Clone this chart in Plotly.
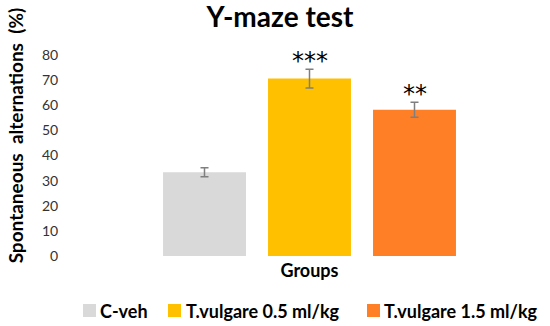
import plotly.graph_objects as go

groups = ["C-veh", "T.vulgare 0.5 ml/kg", "T.vulgare 1.5 ml/kg"]
values = [33.3, 70.6, 58.2]
errors = [1.8, 3.7, 3.0]
colors = ["#d9d9d9", "#ffc000", "#ff7f27"]
signif = ["", "***", "**"]

FONT = "Lato"

fig = go.Figure()
for g, v, e, c in zip(groups, values, errors, colors):
    fig.add_trace(go.Bar(
        x=[g], y=[v], name=g,
        marker=dict(color=c, line=dict(width=0)),
        error_y=dict(type="data", array=[e], visible=True, color="#7f7f7f",
                     thickness=1.5, width=4),
    ))

for g, v, e, s in zip(groups, values, errors, signif):
    if s:
        fig.add_annotation(x=g, y=v + e, text=s, showarrow=False,
                           yanchor="bottom", yshift=-8,
                           font=dict(family="DejaVu Sans", size=24, color="#000"))

fig.add_annotation(x=-0.113, y=0.5, xref="paper", yref="paper",
                   xanchor="center", yanchor="middle",
                   text="<b>Spontaneous&nbsp;&nbsp;alternations&nbsp;&nbsp;(%)</b>",
                   textangle=-90, showarrow=False, yshift=20,
                   font=dict(family=FONT, size=19, color="#000"))

# legend keys (swatch + label), placed below the plot area
legend_sq_x = [0.0271, 0.2046, 0.6200]
legend_tx_x = [0.0585, 0.2380, 0.6513]
for g, c, sx, tx in zip(groups, colors, legend_sq_x, legend_tx_x):
    fig.add_shape(type="rect", xref="paper", yref="paper",
                  x0=sx, x1=sx + 0.0272, y0=-0.3035, y1=-0.2388,
                  fillcolor=c, line=dict(width=0))
    fig.add_annotation(x=tx, y=-0.2736, xref="paper", yref="paper",
                       xanchor="left", yanchor="middle", showarrow=False,
                       text="<b>" + g + "</b>",
                       font=dict(family=FONT, size=18, color="#000"))

fig.update_layout(
    width=550, height=326,
    margin=dict(l=70, r=1, t=55, b=70, autoexpand=False),
    paper_bgcolor="white", plot_bgcolor="white",
    barmode="overlay", bargap=0.21, showlegend=False,
    title=dict(text="<b>Y-maze test</b>", x=0.509, xanchor="center", y=0.948,
               yanchor="middle", font=dict(family=FONT, size=28, color="#000")),
    xaxis=dict(range=[-1.281, 3.281], showticklabels=False, showline=False,
               showgrid=False, zeroline=False, ticks="", automargin=False,
               title=dict(text="<b>Groups</b>", standoff=8,
                          font=dict(family=FONT, size=18, color="#000"))),
    yaxis=dict(range=[0, 80], dtick=10, showgrid=False, zeroline=False,
               showline=False, ticks="outside", ticklen=8, tickcolor="white",
               automargin=False,
               tickfont=dict(family=FONT, size=14, color="#333")),
)
fig.write_html("out.html", config={"displayModeBar": False},
               post_script="document.body.style.margin='0';")
